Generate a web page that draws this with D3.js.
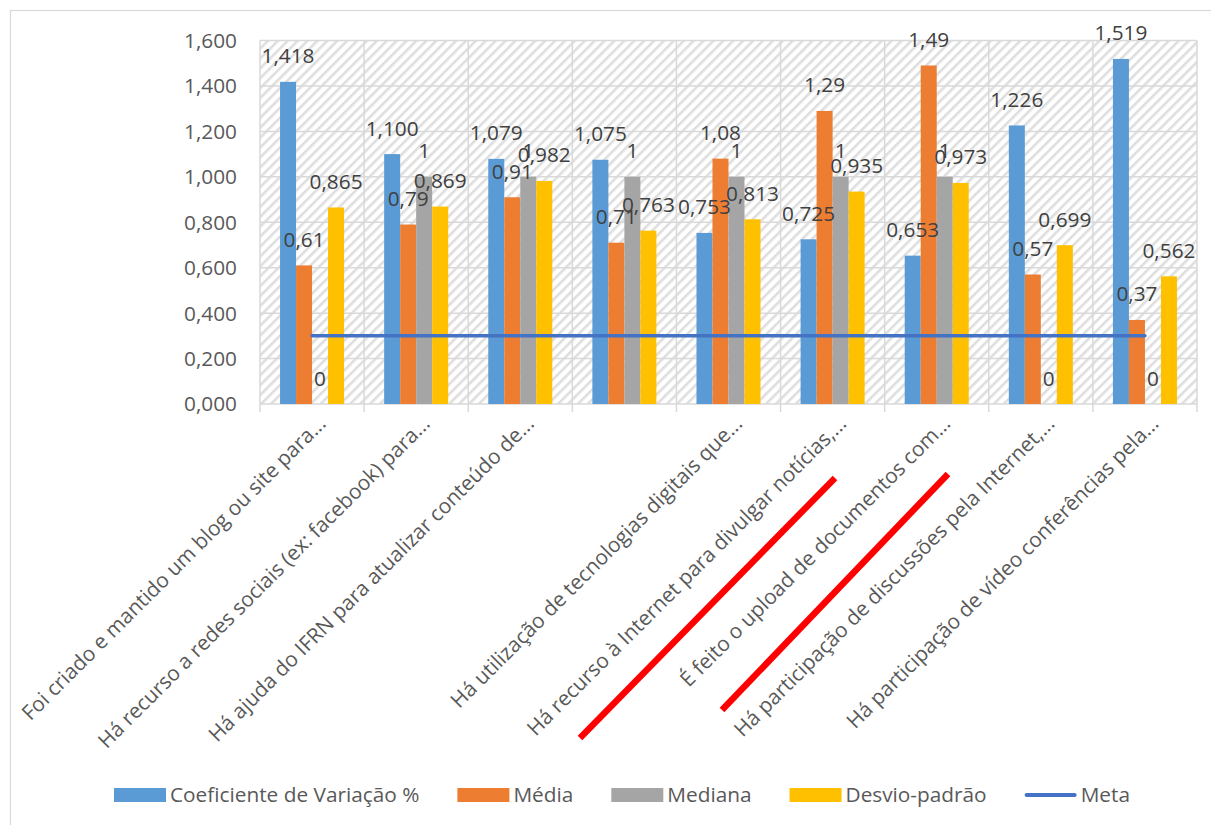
<!DOCTYPE html>
<html>
<head>
<meta charset="utf-8">
<script src="https://cdn.jsdelivr.net/npm/d3@7"></script>
<style>
  html, body { margin: 0; padding: 0; background: #ffffff; }
  svg { display: block; }
  text { font-family: "Open Sans", "Noto Sans", sans-serif; }
</style>
</head>
<body>
<svg id="chart" width="1211" height="825"></svg>
<script>
// Category labels (the fourth category has no caption)
const categories = [
  "Foi criado e mantido um blog ou site para...",
  "Há recurso a redes sociais (ex: facebook) para...",
  "Há ajuda do IFRN para atualizar conteúdo de...",
  "",
  "Há utilização de tecnologias digitais que...",
  "Há recurso à Internet para divulgar notícias,...",
  "É feito o upload de documentos com...",
  "Há participação de discussões pela Internet,...",
  "Há participação de vídeo conferências pela..."
];

const seriesNames = ["Coeficiente de Variação %", "Média", "Mediana", "Desvio-padrão"];
const metaName = "Meta";

const coeficiente = [1.418, 1.100, 1.079, 1.075, 0.753, 0.725, 0.653, 1.226, 1.519];
const media       = [0.61, 0.79, 0.91, 0.71, 1.08, 1.29, 1.49, 0.57, 0.37];
const mediana     = [0, 1, 1, 1, 1, 1, 1, 0, 0];
const desvio      = [0.865, 0.869, 0.982, 0.763, 0.813, 0.935, 0.973, 0.699, 0.562];
const meta        = [0.3, 0.3, 0.3, 0.3, 0.3, 0.3, 0.3, 0.3, 0.3];

const yTicks = [0, 0.2, 0.4, 0.6, 0.8, 1.0, 1.2, 1.4, 1.6];

const colors = ["#5B9BD5", "#ED7D31", "#A5A5A5", "#FFC000"];
const metaColor = "#4472C4";

const FS = 20.8;

const seriesValues = [coeficiente, media, mediana, desvio];
// label formats: coefficient and deviation with three decimals, the rest in general form
const fmt3 = v => d3.format(".3f")(v).replace(".", ",");
const fmtGen = v => String(+v.toFixed(3)).replace(".", ",");
const labelFormats = [fmt3, fmtGen, fmtGen, fmt3];

const svg = d3.select("#chart");

// outer chart frame
svg.append("rect")
  .attr("x", 10.5).attr("y", 10.5)
  .attr("width", 1230).attr("height", 840)
  .attr("fill", "#ffffff")
  .attr("stroke", "#d9d9d9").attr("stroke-width", 1.2);

const plot = { left: 260, right: 1197, top: 40.5, bottom: 404 };

const idx = d3.range(categories.length);
const x0 = d3.scaleBand().domain(idx).range([plot.left, plot.right]).padding(0);
const bw = x0.bandwidth();
const x1 = d3.scaleBand().domain(d3.range(seriesNames.length))
  .range([bw * 0.1925, bw * 0.8075]).padding(0);
const y = d3.scaleLinear().domain([0, 1.6]).range([plot.bottom, plot.top]);

// diagonal hatch for the plot background
const defs = svg.append("defs");
const pat = defs.append("pattern")
  .attr("id", "hatch")
  .attr("patternUnits", "userSpaceOnUse")
  .attr("width", 7).attr("height", 7)
  .attr("patternTransform", "rotate(45)");
pat.append("rect").attr("width", 7).attr("height", 7).attr("fill", "#ffffff");
pat.append("rect").attr("x", 0).attr("y", 0).attr("width", 2.6).attr("height", 7)
  .attr("fill", "#dedede");

svg.append("rect")
  .attr("x", plot.left).attr("y", plot.top)
  .attr("width", plot.right - plot.left).attr("height", plot.bottom - plot.top)
  .attr("fill", "url(#hatch)");

// horizontal gridlines
svg.append("g")
  .selectAll("line")
  .data(yTicks)
  .join("line")
  .attr("x1", plot.left).attr("x2", plot.right)
  .attr("y1", d => y(d)).attr("y2", d => y(d))
  .attr("stroke", "#d9d9d9").attr("stroke-width", 1.5);

// vertical gridlines at category boundaries, extending into tick marks
const bounds = idx.map(i => x0(i)).concat([plot.right]);
svg.append("g")
  .selectAll("line")
  .data(bounds)
  .join("line")
  .attr("x1", d => d).attr("x2", d => d)
  .attr("y1", plot.top).attr("y2", plot.bottom + 8)
  .attr("stroke", "#d9d9d9").attr("stroke-width", 1.5);

// y-axis tick labels, decimal comma with three places
svg.append("g")
  .selectAll("text")
  .data(yTicks)
  .join("text")
  .attr("x", 237)
  .attr("y", d => y(d))
  .attr("dy", "0.36em")
  .attr("text-anchor", "end")
  .attr("font-size", FS)
  .attr("fill", "#595959")
  .text(d => d3.format(".3f")(d).replace(".", ","));

// bars
const groups = svg.append("g")
  .selectAll("g")
  .data(idx)
  .join("g")
  .attr("transform", i => `translate(${x0(i)},0)`);

groups.selectAll("rect")
  .data(i => seriesValues.map((vals, s) => ({ s, v: vals[i] })))
  .join("rect")
  .attr("x", d => x1(d.s))
  .attr("width", x1.bandwidth())
  .attr("y", d => y(d.v))
  .attr("height", d => y(0) - y(d.v))
  .attr("fill", d => colors[d.s]);

// meta line across the category centres
const metaLine = d3.line()
  .x((d, i) => x0(i) + bw / 2)
  .y(d => y(d));
svg.append("path")
  .datum(meta)
  .attr("d", metaLine)
  .attr("fill", "none")
  .attr("stroke", metaColor)
  .attr("stroke-width", 3.5)
  .attr("stroke-linecap", "round");

// value labels
groups.selectAll("text.val")
  .data(i => seriesValues.map((vals, s) => ({ s, v: vals[i] })))
  .join("text")
  .attr("class", "val")
  .attr("x", d => x1(d.s) + x1.bandwidth() / 2)
  .attr("y", d => y(d.v) - 18.5)
  .attr("text-anchor", "middle")
  .attr("font-size", FS)
  .attr("fill", "#404040")
  .text(d => labelFormats[d.s](d.v));

// rotated category labels
svg.append("g")
  .selectAll("text")
  .data(idx)
  .join("text")
  .attr("transform", i => `translate(${x0(i) + bw / 2 + 15},${plot.bottom + 21}) rotate(-45)`)
  .attr("text-anchor", "end")
  .attr("font-size", FS)
  .attr("fill", "#595959")
  .text(i => categories[i]);

// red strike marks over two categories
const strikes = [
  [[580, 738], [835, 478]],
  [[722, 710], [948, 474]]
];
svg.append("g")
  .selectAll("line")
  .data(strikes)
  .join("line")
  .attr("x1", d => d[0][0]).attr("y1", d => d[0][1])
  .attr("x2", d => d[1][0]).attr("y2", d => d[1][1])
  .attr("stroke", "#ff0000").attr("stroke-width", 6.5);

// legend
const legendItems = seriesNames.map((n, s) => ({ name: n, color: colors[s], type: "rect" }))
  .concat([{ name: metaName, color: metaColor, type: "line" }]);
const legend = svg.append("g");
const swW = 52, swGap = 4, itemGap = 38;
let lx = 0;
const items = legend.selectAll("g")
  .data(legendItems)
  .join("g");
items.each(function (d) {
  const g = d3.select(this);
  if (d.type === "rect") {
    g.append("rect").attr("x", 0).attr("y", -7).attr("width", swW).attr("height", 14).attr("fill", d.color);
  } else {
    g.append("line").attr("x1", 2).attr("x2", swW - 2).attr("y1", 0).attr("y2", 0)
      .attr("stroke", d.color).attr("stroke-width", 4).attr("stroke-linecap", "round");
  }
  const t = g.append("text")
    .attr("x", swW + swGap).attr("y", 0).attr("dy", "0.35em")
    .attr("font-size", FS).attr("fill", "#595959")
    .text(d.name);
  d.w = swW + swGap + t.node().getComputedTextLength();
});
items.attr("transform", d => {
  const tr = `translate(${lx},0)`;
  lx += d.w + itemGap;
  return tr;
});
const totalW = lx - itemGap;
legend.attr("transform", `translate(${622 - totalW / 2},795)`);
</script>
</body>
</html>
